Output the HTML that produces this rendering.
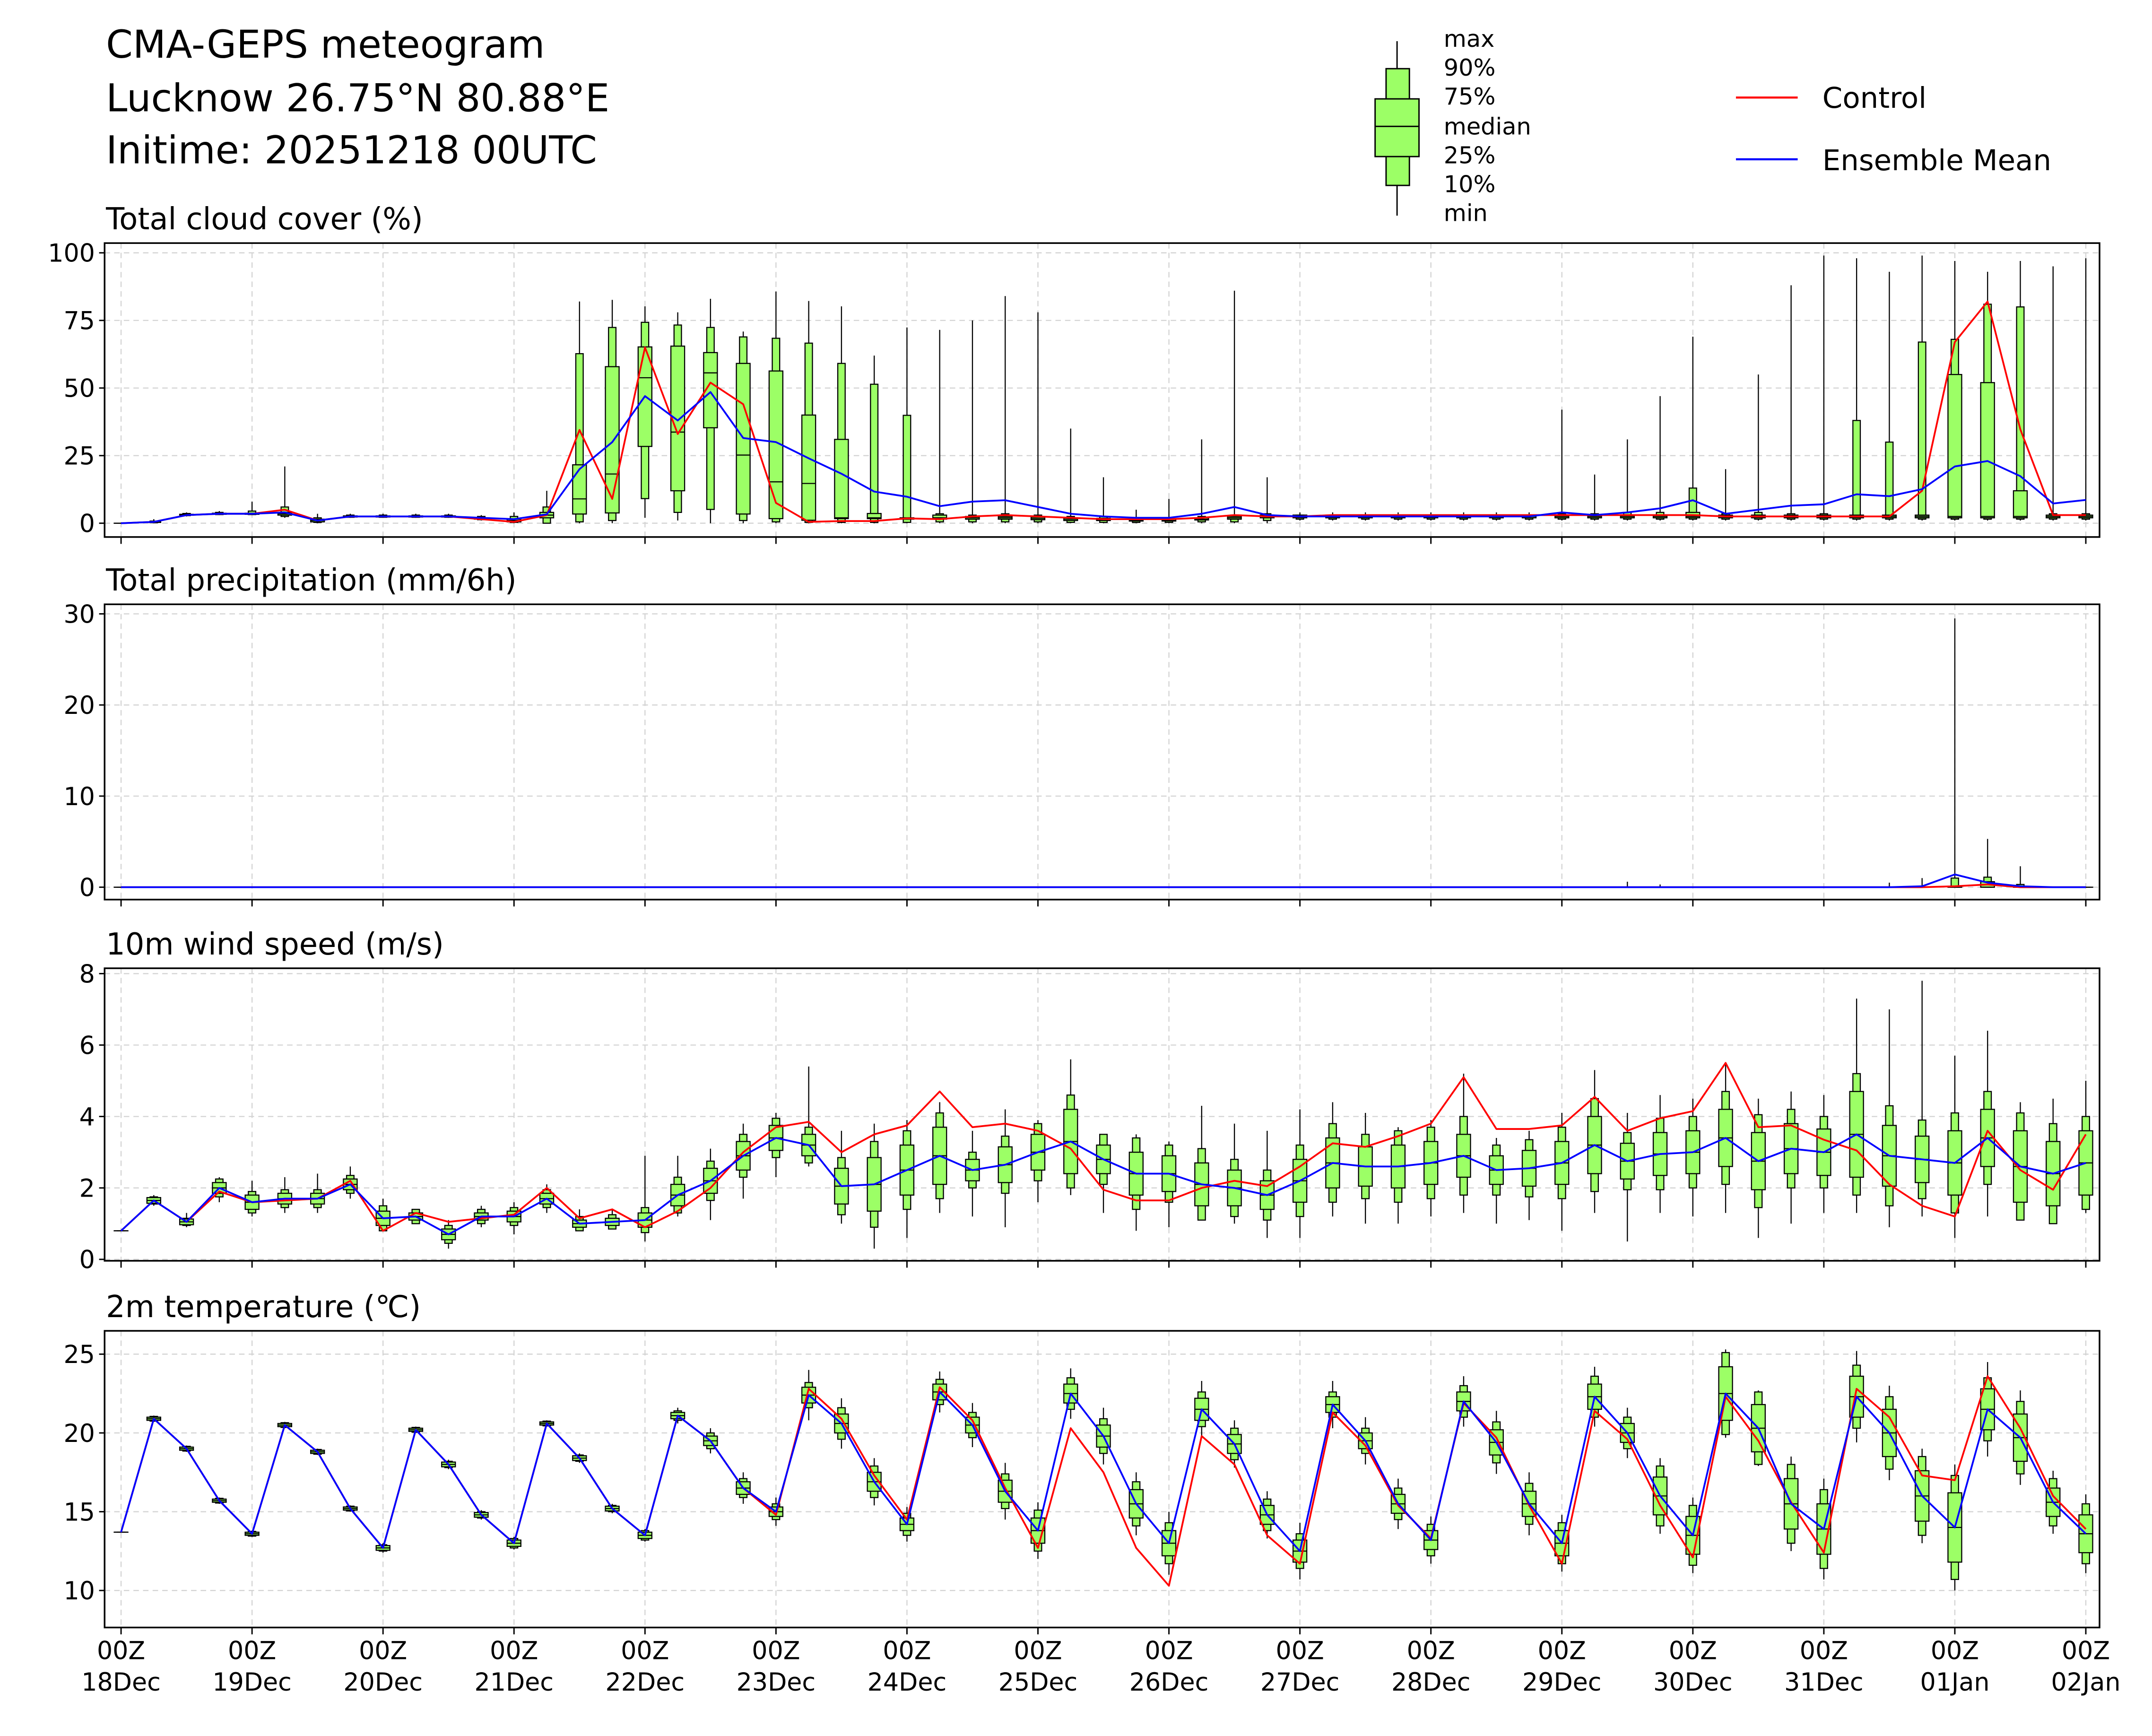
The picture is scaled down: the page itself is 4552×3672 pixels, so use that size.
<!DOCTYPE html>
<html><head><meta charset="utf-8"><title>CMA-GEPS meteogram</title>
<style>html,body{margin:0;padding:0;background:#fff;}svg{display:block;}text{font-family:"DejaVu Sans","Liberation Sans",sans-serif;}</style>
</head><body>
<svg xmlns="http://www.w3.org/2000/svg" width="4552" height="3672" viewBox="0 0 1552 1264" preserveAspectRatio="none">
<rect x="0" y="0" width="1552" height="1264" fill="#fff"/>
<g id="fig" transform="matrix(0.9895,0,0,1,0.23,0)">
<g>
<text x="77" y="42" font-size="28" fill="#000">CMA-GEPS meteogram</text>
<text x="77" y="81" font-size="28" fill="#000">Lucknow 26.75°N 80.88°E</text>
<text x="77" y="119" font-size="28" fill="#000">Initime: 20251218 00UTC</text>
</g>
<g>
<line x1="1018" y1="30" x2="1018" y2="157" stroke="#000" stroke-width="1"/>
<rect x="1010" y="50" width="17" height="85" fill="#9cff66" stroke="#000" stroke-width="1"/>
<rect x="1002" y="72" width="32" height="42" fill="#9cff66" stroke="#000" stroke-width="1"/>
<line x1="1002" y1="92" x2="1034" y2="92" stroke="#000" stroke-width="1"/>
<text x="1052" y="34" font-size="17">max</text>
<text x="1052" y="55" font-size="17">90%</text>
<text x="1052" y="76" font-size="17">75%</text>
<text x="1052" y="98" font-size="17">median</text>
<text x="1052" y="119" font-size="17">25%</text>
<text x="1052" y="140" font-size="17">10%</text>
<text x="1052" y="161" font-size="17">min</text>
</g>
<g>
<line x1="1265" y1="71" x2="1310" y2="71" stroke="#ff0000" stroke-width="1.5"/>
<text x="1328" y="78.5" font-size="21">Control</text>
<line x1="1265" y1="116" x2="1310" y2="116" stroke="#0000ff" stroke-width="1.5"/>
<text x="1328" y="124" font-size="21">Ensemble Mean</text>
</g>
</g>
</svg>
<script>
// ---------- data ----------
const xLabelsTop = ["00Z","00Z","00Z","00Z","00Z","00Z","00Z","00Z","00Z","00Z","00Z","00Z","00Z","00Z","00Z","00Z"];
const xLabelsDate = ["18Dec","19Dec","20Dec","21Dec","22Dec","23Dec","24Dec","25Dec","26Dec","27Dec","28Dec","29Dec","30Dec","31Dec","01Jan","02Jan"];
const leadHours = [0,6,12,18,24,30,36,42,48,54,60,66,72,78,84,90,96,102,108,114,120,126,132,138,144,150,156,162,168,174,180,186,192,198,204,210,216,222,228,234,240,246,252,258,264,270,276,282,288,294,300,306,312,318,324,330,336,342,348,354,360];

// cloud cover (%)
const cCtrl = [0,0.5,3,3.5,3.5,5,1,2.5,2.5,2.5, 2.5,1.5,0.5,3,34.5,9,65,33,52,44, 7.5,0.5,0.8,0.8,1.8,1.5,2.5,3,2.5,2, 1.5,1.5,1.5,2,3,2.5,2.5,3,3,3, 3,3,3,3,3,3,3,3,3,2.5, 2.5,2.5,2.5,2.5,2.5,12,67,82,34.7,3, 3];
const cMean = [0,0.5,3,3.5,3.5,4,1,2.5,2.5,2.5, 2.5,2,1.5,3.3,20,30,47,38,48.5,31.5, 30,24,18.3,11.7,9.8,6.3,8,8.5,6,3.5, 2.5,2,2,3.5,6,3,2.5,2.5,2.5,2.5, 2.5,2.5,2.5,2.5,4,3,4,5.5,8.5,3.5, 5,6.5,7,10.7,10,12.6,21,23,17.4,7.3, 8.6];
const cMin = [0,0,2.5,3,3,2,0,2,2,2, 2,1,0,0,0,0,2,1,0,0, 0,0,0,0,0,0,0,0,0,0, 0,0,0,0,0,0,1,1,1,1, 1,1,1,1,1,1,1,1,1,1, 1,1,1,1,1,1,1,1,1,1, 1];
const cP10 = [0,0.2,2.8,3.2,3.2,2.5,0.3,2.2,2.2,2.2, 2.2,1.3,0.3,0,0.5,1,9.1,4,5.1,1, 0.5,0.3,0.3,0.3,0.3,0.5,0.5,0.5,0.5,0.3, 0.3,0.3,0.3,0.5,0.5,1,1.5,1.5,1.5,1.5, 1.5,1.5,1.5,1.5,1.5,1.5,1.5,1.5,1.5,1.5, 1.5,1.5,1.5,1.5,1.5,1.5,1.5,1.5,1.5,1.5, 1.5];
const cQ25 = [0,0.3,3,3.3,3.3,3,0.5,2.3,2.3,2.3, 2.3,1.5,0.5,2,3.4,3.8,28.4,12,35.3,3.4, 1.7,1.1,1.7,1.7,1.5,1.5,1.5,1.5,1.3,1, 1,0.8,0.8,1.2,1.5,2,2,2,2,2, 2,2,2,2,2,2,2,2,2,2, 2,2,2,2,2,2,2,2,2,2, 2];
const cMed = [0,0.4,3.1,3.5,3.5,3.5,1,2.5,2.5,2.5, 2.5,1.8,1,3,9,18.2,53.8,33.7,55.6,25.2, 15.3,14.7,2,2,1.8,2,2,2,1.8,1.5, 1.3,1,1,1.5,2,2.5,2.5,2.5,2.5,2.5, 2.5,2.5,2.5,2.5,2.5,2.5,2.5,2.5,2.5,2.5, 2.5,2.5,2.5,2.5,2.5,2.5,2.5,2.5,2.5,2.5, 2.5];
const cQ75 = [0,0.5,3.3,3.7,3.7,4,1.5,2.7,2.7,2.7, 2.7,2,1.5,4,21.6,57.9,65.2,65.5,63.1,59.1, 56.3,40,31,3.6,2,3,2.5,2.5,2.3,2, 1.8,1.5,1.5,2,2.5,3,3,3,3,3, 3,3,3,3,3,3,3,3,4,3, 3,3,3,3,3,3,55,52,12,3, 3];
const cP90 = [0,0.8,3.6,4,4.5,6,2,3,3,3, 3,2.5,2.5,6,62.7,72.4,74.3,73.3,72.4,68.9, 68.4,66.6,59.1,51.4,39.9,3.5,3,3.5,3,2.5, 2.5,2,2,2.5,3,3.5,3,3,3,3, 3,3,3,3,3.5,3.5,4,4,13,3.5, 4,3.5,3.5,38,30,67,68,81,80,3.5, 3.5];
const cMax = [0,1.5,4,4.5,8,21,3.5,3.5,3.5,3.5, 3.5,3,4,12,82,82.6,80.2,78,83,70.9, 85.7,82.2,80.2,62,72.4,71.5,75,84,78,35, 17,5,9,31,86,17,4,4,4,4, 4,4,4,4,42,18,31,47,69,20, 55,88,99,98,93,99,97,93,97,95, 98];

// precipitation (mm/6h)
const pCtrl = [0,0,0,0,0,0,0,0,0,0, 0,0,0,0,0,0,0,0,0,0, 0,0,0,0,0,0,0,0,0,0, 0,0,0,0,0,0,0,0,0,0, 0,0,0,0,0,0,0,0,0,0, 0,0,0,0,0,0,0.1,0.3,0,0, 0];
const pMean = [0,0,0,0,0,0,0,0,0,0, 0,0,0,0,0,0,0,0,0,0, 0,0,0,0,0,0,0,0,0,0, 0,0,0,0,0,0,0,0,0,0, 0,0,0,0,0,0,0,0,0,0, 0,0,0,0,0,0.1,1.4,0.5,0.1,0, 0];
const pQ75 = [0,0,0,0,0,0,0,0,0,0, 0,0,0,0,0,0,0,0,0,0, 0,0,0,0,0,0,0,0,0,0, 0,0,0,0,0,0,0,0,0,0, 0,0,0,0,0,0,0,0,0,0, 0,0,0,0,0,0,0.1,0.6,0,0, 0];
const pP90 = [0,0,0,0,0,0,0,0,0,0, 0,0,0,0,0,0,0,0,0,0, 0,0,0,0,0,0,0,0,0,0, 0,0,0,0,0,0,0,0,0,0, 0,0,0,0,0,0,0,0,0,0, 0,0,0,0,0,0,1.0,1.1,0.3,0, 0];
const pMax = [0,0,0,0,0,0,0,0,0,0, 0,0,0,0,0,0,0,0,0,0, 0,0,0,0,0,0,0,0,0,0, 0,0,0,0,0,0,0,0,0,0, 0,0,0,0,0,0,0.6,0.3,0,0, 0,0,0,0,0.5,1.0,29.5,5.3,2.3,0, 0];

// 10m wind speed (m/s)
const wCtrl = [0.8,1.65,1.05,1.9,1.6,1.65,1.7,2.2,0.8,1.3, 1.05,1.15,1.25,2.0,1.15,1.4,0.9,1.35,2.0,3.0, 3.7,3.85,3.0,3.5,3.75,4.7,3.7,3.8,3.6,3.1, 1.95,1.65,1.65,2.0,2.2,2.05,2.6,3.25,3.15,3.45, 3.8,5.1,3.65,3.65,3.75,4.55,3.6,3.95,4.15,5.5, 3.7,3.75,3.35,3.05,2.1,1.5,1.2,3.6,2.5,1.95, 3.5];
const wMean = [0.8,1.65,1.05,2.0,1.6,1.7,1.7,2.1,1.15,1.2, 0.7,1.2,1.2,1.7,1.0,1.05,1.1,1.8,2.2,2.9, 3.4,3.2,2.05,2.1,2.5,2.9,2.5,2.65,3.0,3.3, 2.8,2.4,2.4,2.1,2.0,1.8,2.2,2.7,2.6,2.6, 2.7,2.9,2.5,2.55,2.7,3.2,2.75,2.95,3.0,3.4, 2.75,3.1,3.0,3.5,2.9,2.8,2.7,3.4,2.6,2.4, 2.7];
const wBox = [0,0.08,0.08,0.15,0.2,0.15,0.15,0.15,0.2,0.1, 0.15,0.1,0.15,0.15,0.1,0.1,0.2,0.3,0.35,0.4, 0.35,0.3,0.5,0.75,0.7,0.8,0.3,0.5,0.5,0.9, 0.4,0.6,0.5,0.6,0.5,0.4,0.6,0.7,0.55,0.6, 0.6,0.6,0.4,0.5,0.6,0.8,0.5,0.6,0.6,0.8, 0.8,0.7,0.65,1.2,0.85,0.65,0.9,0.8,1,0.9, 0.9];
const wWhisk = [0,0.1,0.1,0.25,0.3,0.25,0.25,0.25,0.35,0.2, 0.25,0.2,0.25,0.25,0.2,0.2,0.35,0.5,0.55,0.6, 0.55,0.5,0.8,1.2,1.1,1.2,0.5,0.8,0.8,1.3, 0.7,1,0.8,1,0.8,0.7,1,1.1,0.9,1, 1,1.1,0.7,0.8,1,1.3,0.8,1,1,1.3, 1.3,1.1,1,1.7,1.4,1.1,1.4,1.3,1.5,1.4, 1.3];
const wMin = [0.8,1.5,0.9,1.6,1.2,1.3,1.3,1.7,0.8,1.0, 0.3,0.9,0.7,1.3,0.8,0.9,0.5,1.2,1.1,1.7, 2.3,2.6,1.0,0.3,0.6,1.3,1.2,0.9,1.6,1.8, 1.3,0.8,0.9,1.1,1.0,0.6,0.6,1.2,1.0,1.0, 1.2,1.3,1.0,1.1,0.8,1.3,0.5,1.3,1.2,1.3, 0.6,1.0,1.3,1.3,0.9,1.2,0.6,1.2,1.1,1.0, 1.3];
const wMax = [0.8,1.8,1.3,2.3,2.2,2.3,2.4,2.6,1.7,1.4, 1.1,1.5,1.6,2.1,1.4,1.4,2.9,2.9,3.1,3.8, 4.1,5.4,3.6,3.8,3.9,4.4,3.6,4.2,3.9,5.6, 3.2,3.5,3.3,4.3,3.8,3.6,4.2,4.4,4.1,3.7, 3.9,5.2,3.4,3.6,4.1,5.3,4.1,4.6,4.5,5.5, 4.5,4.7,4.6,7.3,7.0,7.8,5.7,6.4,4.4,4.5, 5.0];

// 2m temperature (°C)
const tCtrl = [13.7,20.9,19.0,15.7,13.6,20.5,18.8,15.2,12.7,20.2, 18.0,14.8,13.0,20.6,18.4,15.2,13.5,21.1,19.5,16.5, 14.8,22.8,20.9,17.3,14.5,22.9,20.8,16.5,12.7,20.3, 17.5,12.7,10.3,19.8,18.0,13.5,11.7,21.3,19.2,15.4, 13.3,21.9,19.7,15.4,11.7,21.4,19.6,15.4,12.1,22.3, 19.5,15.6,12.4,22.8,21.0,17.3,17.0,23.6,20.3,16.0, 13.9];
const tMean = [13.7,20.9,19.0,15.7,13.6,20.5,18.8,15.2,12.7,20.2, 18.0,14.8,13.0,20.6,18.4,15.2,13.5,21.1,19.5,16.5, 15.0,22.4,20.6,16.9,14.2,22.6,20.5,16.3,13.8,22.5, 19.8,15.5,13.0,21.5,19.3,14.8,12.5,21.8,19.5,15.5, 13.2,22.0,19.4,15.5,13.0,22.3,20.0,16.0,13.5,22.5, 20.3,15.5,13.9,22.3,20.0,16.0,14.0,21.5,19.7,15.6, 13.6];
const tBox = [0,0.1,0.1,0.1,0.1,0.1,0.1,0.1,0.15,0.1, 0.15,0.15,0.2,0.1,0.15,0.15,0.2,0.2,0.3,0.4, 0.3,0.5,0.6,0.6,0.4,0.5,0.5,0.7,0.8,0.6, 0.7,0.9,0.8,0.7,0.6,0.6,0.7,0.5,0.5,0.6, 0.6,0.6,0.8,0.8,0.8,0.8,0.6,1.2,1.2,1.7, 1.5,1.6,1.6,1.3,1.5,1.6,2.2,1.3,1.5,0.9, 1.2];
const tWhisk = [0,0.15,0.15,0.15,0.15,0.15,0.15,0.15,0.2,0.15, 0.2,0.2,0.3,0.15,0.2,0.2,0.3,0.3,0.5,0.6, 0.5,0.8,1,1,0.7,0.8,0.8,1.1,1.3,1, 1.1,1.4,1.3,1.1,1,1,1.1,0.8,0.8,1, 1,1,1.3,1.3,1.3,1.3,1,1.9,1.9,2.6, 2.3,2.5,2.5,2,2.3,2.5,3.3,2,2.3,1.5, 1.9];
const tExt = [0,0.2,0.2,0.2,0.2,0.2,0.2,0.2,0.3,0.2, 0.3,0.3,0.4,0.2,0.3,0.3,0.4,0.5,0.8,1, 0.9,1.6,1.6,1.5,1.1,1.3,1.4,1.8,1.8,1.6, 1.8,2,2,1.8,1.5,1.5,1.8,1.5,1.5,1.6, 1.5,1.6,2,2,1.8,1.9,1.6,2.4,2.4,2.8, 2.4,3,3.2,2.9,3,3,4,3,3,2, 2.5];

const cTicks = [0,25,50,75,100];
const pTicks = [0,10,20,30];
const wTicks = [0,2,4,6,8];
const tTicks = [10,15,20,25];

// ---------- drawing ----------
const NS = "http://www.w3.org/2000/svg";
const svg = document.getElementById("fig");
const X0 = 76, X1 = 1530;
const T0 = 88, T1 = 1520, HMAX = 360;
function xs(h){ return T0 + (h / HMAX) * (T1 - T0); }
function mk(tag, attrs, parent){
  const e = document.createElementNS(NS, tag);
  for (const k in attrs) e.setAttribute(k, attrs[k]);
  (parent || svg).appendChild(e);
  return e;
}

function drawPanel(p){
  const g = mk("g", {});
  
  
  const ys = v => p.y1 - (v - p.vmin) / (p.vmax - p.vmin) * (p.y1 - p.y0);
  for (let d = 0; d < xLabelsDate.length; d++){
    const gx = xs(d * 24);
    const gl = mk("line", {x1:gx, x2:gx, y1:p.y0, y2:p.y1, stroke:"#d3d3d3", "stroke-width":0.8, "stroke-dasharray":"4,3"}, g);
    
    
  }
  p.ticks.forEach(t => {
    const gy = ys(t);
    const gl = mk("line", {x1:X0, x2:X1, y1:gy, y2:gy, stroke:"#d3d3d3", "stroke-width":0.8, "stroke-dasharray":"4,3"}, g);
    
    
    const tk = mk("line", {x1:X0-4, x2:X0, y1:gy, y2:gy, stroke:"#000", "stroke-width":1}, g);
    
    
    const tl = mk("text", {x:X0-7, y:gy+6.5, "font-size":18, "text-anchor":"end"}, g);
    tl.textContent = t;
    
    
  });
  for (let i = 0; i < leadHours.length; i++){
    const cx = xs(leadHours[i]);
    const s = p.stats(i);
    const bg = mk("g", {}, g);
    
    
    mk("line", {x1:cx, x2:cx, y1:ys(s.mn), y2:ys(s.mx), stroke:"#000", "stroke-width":0.8}, bg);
    const yA = ys(s.p90), yB = ys(s.p10);
    mk("rect", {x:cx-2.7, y:yA, width:5.4, height:Math.max(yB-yA,0.01), fill:"#9cff66", stroke:"#000", "stroke-width":0.8}, bg);
    const yC = ys(s.q75), yD = ys(s.q25);
    mk("rect", {x:cx-5, y:yC, width:10, height:Math.max(yD-yC,0.01), fill:"#9cff66", stroke:"#000", "stroke-width":0.8}, bg);
    mk("line", {x1:cx-5, x2:cx+5, y1:ys(s.med), y2:ys(s.med), stroke:"#000", "stroke-width":0.8}, bg);
  }
  const ctrlPts = p.ctrl.map((v,i) => xs(leadHours[i]).toFixed(2) + "," + ys(v).toFixed(2)).join(" ");
  const cl = mk("polyline", {points:ctrlPts, fill:"none", stroke:"#ff0000", "stroke-width":1.3, "stroke-linejoin":"round"}, g);
  
  
  const meanPts = p.mean.map((v,i) => xs(leadHours[i]).toFixed(2) + "," + ys(v).toFixed(2)).join(" ");
  const ml = mk("polyline", {points:meanPts, fill:"none", stroke:"#0000ff", "stroke-width":1.3, "stroke-linejoin":"round"}, g);
  
  
  const fr = mk("rect", {x:X0, y:p.y0, width:X1-X0, height:p.y1-p.y0, fill:"none", stroke:"#000", "stroke-width":1.2}, g);
  
  
  for (let d = 0; d < xLabelsDate.length; d++){
    const gx = xs(d * 24);
    const tk = mk("line", {x1:gx, x2:gx, y1:p.y1, y2:p.y1+5, stroke:"#000", "stroke-width":1}, g);
    
    
    if (p.labels){
      const t1 = mk("text", {x:gx, y:p.y1+23, "font-size":18, "text-anchor":"middle"}, g);
      t1.textContent = xLabelsTop[d];
      
      
      const t2 = mk("text", {x:gx, y:p.y1+46, "font-size":18, "text-anchor":"middle"}, g);
      t2.textContent = xLabelsDate[d];
      
      
    }
  }
  const tt = mk("text", {x:77, y:p.y0-10, "font-size":22}, g);
  tt.textContent = p.title;
  
  
}

drawPanel({name:"cloud-cover-panel", title:"Total cloud cover (%)", y0:177, y1:391, vmin:-5.1, vmax:103.6, ticks:cTicks, ctrl:cCtrl, mean:cMean,
  stats:i => ({mn:cMin[i], p10:cP10[i], q25:cQ25[i], med:cMed[i], q75:cQ75[i], p90:cP90[i], mx:cMax[i]})});
drawPanel({name:"precipitation-panel", title:"Total precipitation (mm/6h)", y0:440, y1:655, vmin:-1.36, vmax:31.05, ticks:pTicks, ctrl:pCtrl, mean:pMean,
  stats:i => ({mn:0, p10:0, q25:0, med:0, q75:pQ75[i], p90:pP90[i], mx:pMax[i]})});
drawPanel({name:"wind-speed-panel", title:"10m wind speed (m/s)", y0:705, y1:918, vmin:-0.04, vmax:8.15, ticks:wTicks, ctrl:wCtrl, mean:wMean,
  stats:i => ({mn:wMin[i], p10:wMean[i]-wWhisk[i], q25:wMean[i]-wBox[i], med:wMean[i], q75:wMean[i]+wBox[i], p90:wMean[i]+wWhisk[i], mx:wMax[i]})});
drawPanel({name:"temperature-panel", title:"2m temperature (\u2103)", y0:969, y1:1185, vmin:7.65, vmax:26.48, ticks:tTicks, ctrl:tCtrl, mean:tMean, labels:true,
  stats:i => ({mn:tMean[i]-tExt[i], p10:tMean[i]-tWhisk[i], q25:tMean[i]-tBox[i], med:tMean[i], q75:tMean[i]+tBox[i], p90:tMean[i]+tWhisk[i], mx:tMean[i]+tExt[i]})});
</script>
</body></html>
